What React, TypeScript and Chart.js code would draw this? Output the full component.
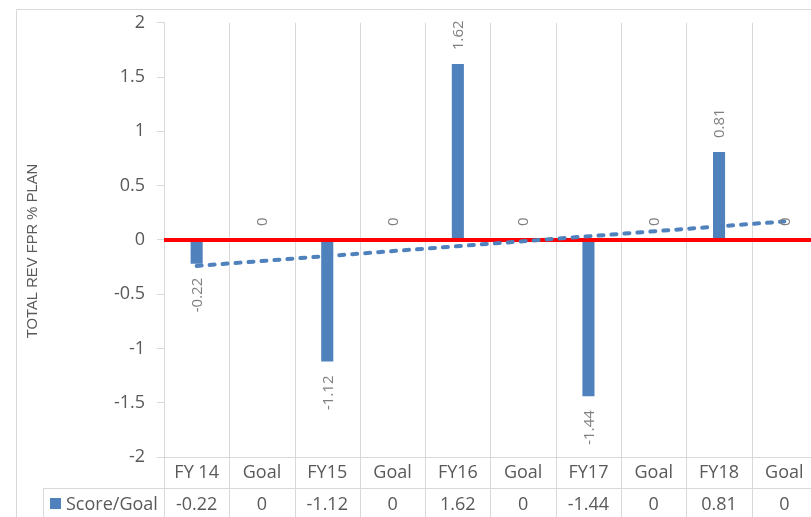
import React, { useEffect, useRef } from 'react';
import { Chart, registerables } from 'chart.js';

Chart.register(...registerables);

const categories = ['FY 14', 'Goal', 'FY15', 'Goal', 'FY16', 'Goal', 'FY17', 'Goal', 'FY18', 'Goal'];
const scores = [-0.22, 0, -1.12, 0, 1.62, 0, -1.44, 0, 0.81, 0];
const trendline = [-0.24, null, null, null, null, null, null, null, null, 0.17];
const yTicks = [2, 1.5, 1, 0.5, 0, -0.5, -1, -1.5, -2];
const seriesName = 'Score/Goal';
const axisTitle = 'TOTAL REV FPR % PLAN';

const FONT = '"Open Sans", "Noto Sans", sans-serif';
const TEXT = '#595959';
const GRID = '#D9D9D9';
const BLUE = '#4F81BD';

const excelPlugin = {
  id: 'excelLook',
  beforeDraw(chart: any) {
    const { ctx, width, height } = chart;
    ctx.save();
    ctx.fillStyle = '#fff';
    ctx.fillRect(0, 0, width, height);
    ctx.strokeStyle = GRID;
    ctx.lineWidth = 1;
    ctx.beginPath();
    ctx.moveTo(16.5, height);
    ctx.lineTo(16.5, 9.5);
    ctx.lineTo(width, 9.5);
    ctx.stroke();
    ctx.translate(33, 251);
    ctx.rotate(-Math.PI / 2);
    ctx.fillStyle = TEXT;
    ctx.font = '14.8px "Liberation Sans", Arial, sans-serif';
    ctx.textAlign = 'center';
    ctx.textBaseline = 'middle';
    ctx.fillText(axisTitle, 0, 0);
    ctx.restore();
  },
  beforeDatasetsDraw(chart: any) {
    const { ctx, chartArea, height, scales } = chart;
    const x = scales.x;
    const w = x.getPixelForValue(1) - x.getPixelForValue(0);
    const start = x.getPixelForValue(0) - w / 2;
    const n = categories.length;
    const rowTop = chartArea.bottom;
    const rowMid = chartArea.bottom + 31;
    ctx.save();
    ctx.strokeStyle = GRID;
    ctx.lineWidth = 1;
    ctx.beginPath();
    for (let i = 0; i <= n; i++) {
      const px = Math.round(start + i * w) + 0.5;
      ctx.moveTo(px, chartArea.top);
      ctx.lineTo(px, height);
    }
    ctx.moveTo(chartArea.left, Math.round(rowTop) + 0.5);
    ctx.lineTo(chart.width, Math.round(rowTop) + 0.5);
    ctx.moveTo(43, Math.round(rowMid) + 0.5);
    ctx.lineTo(chart.width, Math.round(rowMid) + 0.5);
    ctx.moveTo(43.5, Math.round(rowMid));
    ctx.lineTo(43.5, height);
    ctx.stroke();

    ctx.fillStyle = TEXT;
    ctx.font = '18px ' + FONT;
    ctx.textAlign = 'center';
    ctx.textBaseline = 'middle';
    for (let i = 0; i < n; i++) {
      const cx = x.getPixelForValue(i);
      ctx.fillText(categories[i], cx, rowTop + 16);
      ctx.fillText(String(scores[i]), cx, rowMid + 17);
    }
    ctx.fillStyle = BLUE;
    ctx.fillRect(50, rowMid + 10, 11, 11);
    ctx.fillStyle = TEXT;
    ctx.textAlign = 'left';
    ctx.fillText(seriesName, 66, rowMid + 17);
    ctx.restore();
  },
  afterDatasetDraw(chart: any, args: any) {
    if (args.index !== 0) return;
    const { ctx, chartArea, scales } = chart;
    const y0 = scales.y.getPixelForValue(0);
    ctx.save();
    ctx.strokeStyle = '#FF0000';
    ctx.lineWidth = 4;
    ctx.beginPath();
    ctx.moveTo(chartArea.left, y0);
    ctx.lineTo(chartArea.right, y0);
    ctx.stroke();
    ctx.restore();
  },
  afterDatasetsDraw(chart: any) {
    const { ctx, scales } = chart;
    const meta = chart.getDatasetMeta(0);
    ctx.save();
    ctx.fillStyle = '#7F7F7F';
    ctx.font = '15px ' + FONT;
    ctx.textBaseline = 'middle';
    meta.data.forEach((bar: any, i: number) => {
      const v = scores[i];
      const y0 = scales.y.getPixelForValue(0);
      const yv = scales.y.getPixelForValue(v);
      ctx.save();
      if (v >= 0) {
        ctx.translate(bar.x + 1, Math.min(yv, y0) - 14);
        ctx.rotate(-Math.PI / 2);
        ctx.textAlign = 'left';
      } else {
        ctx.translate(bar.x + 1, yv + 14);
        ctx.rotate(-Math.PI / 2);
        ctx.textAlign = 'right';
      }
      ctx.fillText(String(v), 0, 0);
      ctx.restore();
    });
    ctx.restore();
  },
};

export default function App() {
  const ref = useRef<HTMLCanvasElement>(null);
  useEffect(() => {
    if (!ref.current) return;
    const chart = new Chart(ref.current, {
      type: 'bar',
      data: {
        labels: categories,
        datasets: [
          {
            type: 'bar',
            label: seriesName,
            data: scores,
            backgroundColor: BLUE,
            categoryPercentage: 1,
            barPercentage: 0.185,
            order: 1,
          } as any,
          {
            type: 'line',
            label: 'Trend',
            data: trendline,
            borderColor: BLUE,
            borderWidth: 4,
            borderDash: [5, 8],
            borderCapStyle: 'round',
            pointRadius: 0,
            spanGaps: true,
            fill: false,
            order: 0,
          } as any,
        ],
      },
      options: {
        responsive: false,
        devicePixelRatio: 1,
        animation: false,
        layout: { padding: { top: 22, right: 13, bottom: 60, left: 0 } },
        plugins: { legend: { display: false }, tooltip: { enabled: false } },
        scales: {
          x: { display: false, offset: true },
          y: {
            min: -2,
            max: 2,
            afterBuildTicks: (s: any) => {
              s.ticks = yTicks.map((v) => ({ value: v }));
            },
            afterFit: (s: any) => {
              s.width = 164;
            },
            ticks: {
              color: TEXT,
              font: { family: FONT, size: 18 },
              padding: 12,
              callback: (v: any) => String(v),
            },
            grid: { drawOnChartArea: false, drawTicks: true, tickLength: 7, color: GRID },
            border: { display: true, color: GRID },
          },
        },
      },
      plugins: [excelPlugin],
    });
    return () => chart.destroy();
  }, []);
  return (
    <div style={{ position: 'fixed', left: 0, top: 0, width: 811, height: 517, overflow: 'hidden', background: '#fff' }}>
      <canvas ref={ref} width={830} height={517} style={{ display: 'block' }} />
    </div>
  );
}
